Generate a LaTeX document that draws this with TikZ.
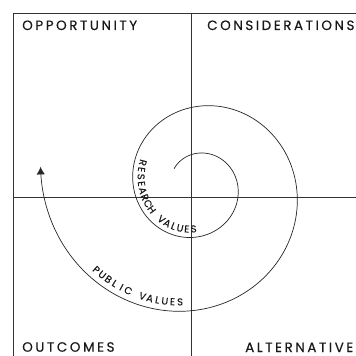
\documentclass[tikz,border=0pt]{standalone}
\usepackage{fontspec}
\setmainfont{Poppins}
\newfontfamily\quadfont[LetterSpace=19,FakeBold=0.3]{Poppins}
\newfontfamily\curvefont[FakeBold=0.2]{Poppins}
\newcommand{\curvelabel}{\curvefont\fontsize{8.5pt}{9pt}\selectfont}
\usetikzlibrary{arrows.meta}

\tikzset{
    quadline/.style={line width=0.7pt,draw=black!80},
    spiral/.style={line width=0.6pt,draw=black!85},
    quadlabel/.style={anchor=base west,inner sep=0pt,text=black!90,font=\quadfont\fontsize{11.5pt}{12pt}\selectfont},
    curvechar/.style={anchor=base,inner sep=0pt,text=black!90,font=\curvelabel}
}

\begin{document}
\begin{tikzpicture}[x=0.03cm,y=0.03cm,declare function={spr(\t)=32.7*exp(0.1415*\t*pi/180);sprang(\r)=ln(\r/32.7)/0.1415*180/pi;}]
                \useasboundingbox (0,0) rectangle (356,356);
                \clip (0,0) rectangle (356,356);
                \coordinate (TL) at (13,343);
                \coordinate (TR) at (356,343);
                \coordinate (BL) at (13,0);
                \coordinate (TM) at (191.7,343);
                \coordinate (BM) at (191.7,0);
                \coordinate (ML) at (13,159);
                \coordinate (MR) at (356,159);
                \coordinate (O) at (197,170);
                \draw[quadline] (BL) -- (TL) -- (TR);
                \draw[quadline] (TM) -- (BM);
                \draw[quadline] (ML) -- (MR);
                \node[quadlabel] (opp) at (22,326) {OPPORTUNITY};
                \node[quadlabel] (con) at (207,326) {CONSIDERATIONS};
                \node[quadlabel] (out) at (22,4.3) {OUTCOMES};
                \node[quadlabel] (alt) at (245,4) {ALTERNATIVE};
                \draw[spiral,-{Latex[length=6.5pt,width=7pt]},shift={(O)}] plot[domain=-53:637,samples=300,smooth,variable=\t] ({spr(\t)*sin(\t)},{spr(\t)*cos(\t)});
                \begin{scope}[shift={(O)}]
                    \foreach \ch [count=\i from 0] in {R,E,S,E,A,R,C,H}{
                        \pgfmathsetmacro{\th}{sprang(67.4-1.136*\i)}
                        \node[curvechar,rotate=188.05-\th] (res\i) at ({(spr(\th)-5)*sin(\th)},{(spr(\th)-5)*cos(\th)}) {\ch};
                    }
                    \foreach \ch [count=\i from 9] in {V,A,L,U,E,S}{
                        \pgfmathsetmacro{\th}{sprang(67.4-1.136*\i)}
                        \node[curvechar,rotate=188.05-\th] (res\i) at ({(spr(\th)-5)*sin(\th)},{(spr(\th)-5)*cos(\th)}) {\ch};
                    }
                    \foreach \ch [count=\i from 0] in {P,U,B,L,I,C}{
                        \pgfmathsetmacro{\th}{sprang(140.4-1.15*\i)}
                        \node[curvechar,rotate=188.05-\th] (pub\i) at ({(spr(\th)-6)*sin(\th)},{(spr(\th)-6)*cos(\th)}) {\ch};
                    }
                    \foreach \ch [count=\i from 7] in {V,A,L,U,E,S}{
                        \pgfmathsetmacro{\th}{sprang(140.4-1.15*\i)}
                        \node[curvechar,rotate=188.05-\th] (pub\i) at ({(spr(\th)-6)*sin(\th)},{(spr(\th)-6)*cos(\th)}) {\ch};
                    }
                \end{scope}
            \end{tikzpicture}
\end{document}
